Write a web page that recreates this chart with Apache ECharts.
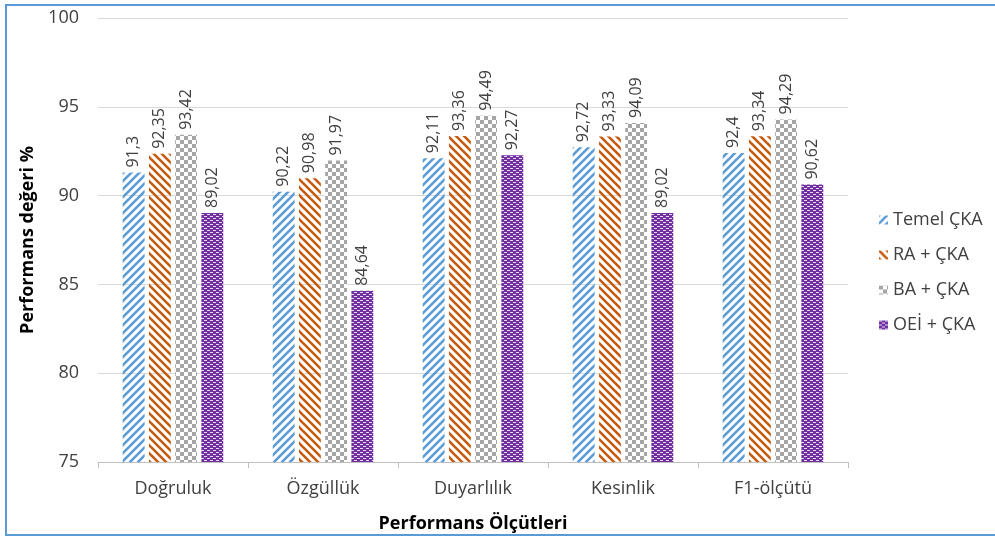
<!DOCTYPE html>
<html><head><meta charset="utf-8">
<script src="https://cdn.jsdelivr.net/npm/echarts@6/dist/echarts.min.js"></script>
<style>html,body{margin:0;padding:0;background:#fff}#c{width:995px;height:537px}</style>
</head><body><div id="c"></div>
<script>
var categories = ['Doğruluk','Özgüllük','Duyarlılık','Kesinlik','F1-ölçütü'];
var seriesNames = ['Temel ÇKA','RA + ÇKA','BA + ÇKA','OEİ + ÇKA'];
var temel = [91.3, 90.22, 92.11, 92.72, 92.4];
var ra = [92.35, 90.98, 93.36, 93.33, 93.34];
var ba = [93.42, 91.97, 94.49, 94.09, 94.29];
var oei = [89.02, 84.64, 92.27, 89.02, 90.62];
var yTicks = {min:75, max:100, interval:5};

function stripe(color, forward){
  var c=document.createElement('canvas'); c.width=8; c.height=8;
  var x=c.getContext('2d'); x.strokeStyle=color; x.lineWidth=2.6; x.lineCap='square';
  for(var k=-2;k<=2;k++){
    x.beginPath();
    if(forward){ x.moveTo(k*8-1,9); x.lineTo(k*8+9,-1); }
    else { x.moveTo(k*8-1,-1); x.lineTo(k*8+9,9); }
    x.stroke();
  }
  return c;
}
function checker(){
  var c=document.createElement('canvas'); c.width=8; c.height=8;
  var x=c.getContext('2d'); x.fillStyle='#fff'; x.fillRect(0,0,8,8);
  x.fillStyle='#A5A5A5'; x.fillRect(0,0,4,4); x.fillRect(4,4,4,4);
  return c;
}
function dots(){
  var c=document.createElement('canvas'); c.width=6; c.height=4;
  var x=c.getContext('2d'); x.fillStyle='#7030A0'; x.fillRect(0,0,6,4);
  x.fillStyle='#E8D8F2'; x.fillRect(0,0,3,1); x.fillRect(3,2,3,1);
  return c;
}
var fills = [
  {image: stripe('#5B9BD5', true), repeat:'repeat'},
  {image: stripe('#C55A11', false), repeat:'repeat'},
  {image: checker(), repeat:'repeat'},
  {image: dots(), repeat:'repeat'}
];
var datas = [temel, ra, ba, oei];
var font = 'Open Sans, Noto Sans, sans-serif';
var chart = echarts.init(document.getElementById('c'), null, {renderer:'canvas'});
var series = seriesNames.map(function(n,i){
  return {
    name:n, type:'bar', data:datas[i], barGap:'20%', barCategoryGap:'33%',
    itemStyle:{color:fills[i]},
    label:{show:true, position:'top', rotate:90, align:'left', verticalAlign:'middle', distance:5,
      color:'#404040', fontSize:16, fontFamily:font,
      formatter:function(p){return String(p.value).replace('.',',');}}
  };
});
chart.setOption({
  animation:false,
  backgroundColor:'#fff',
  graphic:[{type:'rect', shape:{x:6,y:5,width:1000,height:530}, style:{fill:'none', stroke:'#5B9BD5', lineWidth:2}, silent:true}],
  grid:{left:98, right:147, top:18, bottom:75, containLabel:false, outerBoundsMode:'none'},
  legend:{orient:'vertical', left:874, top:206, itemGap:17, itemWidth:9, itemHeight:9, icon:'rect',
    textStyle:{fontSize:18, fontFamily:font, color:'#404040'}, data:seriesNames},
  xAxis:{type:'category', data:categories,
    name:'Performans Ölçütleri', nameLocation:'middle', nameGap:53,
    nameTextStyle:{fontSize:18, fontWeight:'bold', fontFamily:font, color:'#000'},
    axisLine:{lineStyle:{color:'#BFBFBF'}}, axisTick:{show:true, length:6, lineStyle:{color:'#BFBFBF'}},
    axisLabel:{fontSize:18, fontFamily:font, color:'#404040', margin:18}},
  yAxis:{type:'value', min:yTicks.min, max:yTicks.max, interval:yTicks.interval,
    name:'Performans değeri %', nameLocation:'middle', nameGap:56, nameRotate:90,
    nameTextStyle:{fontSize:18, fontWeight:'bold', fontFamily:font, color:'#000'},
    axisLine:{show:false}, axisTick:{show:false},
    axisLabel:{fontSize:18, fontFamily:font, color:'#404040', margin:19},
    splitLine:{lineStyle:{color:'#D9D9D9'}}},
  series:series
});
</script></body></html>
